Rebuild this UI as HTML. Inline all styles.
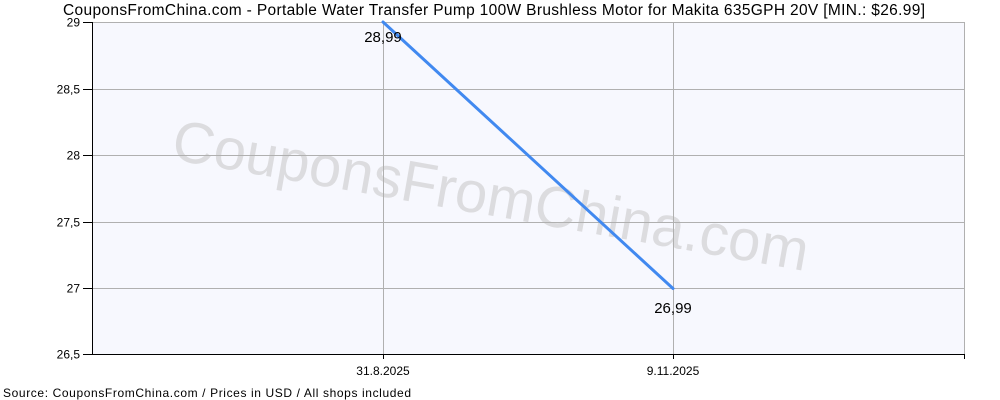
<!DOCTYPE html>
<html><head><meta charset="utf-8"><style>
html,body{margin:0;padding:0;background:#fff;}
svg{display:block;}
text{font-family:"Liberation Sans",Arial,sans-serif;}
</style></head><body>
<svg width="1000" height="400" viewBox="0 0 1000 400" xmlns="http://www.w3.org/2000/svg">
<rect x="0" y="0" width="1000" height="400" fill="#ffffff"/>
<rect x="92" y="22" width="872" height="332" fill="#f7f8fe"/>
<!-- watermark -->
<text x="0" y="0" font-size="58" fill="#dcdcdf" transform="translate(170,159) rotate(10)">CouponsFromChina.com</text>
<!-- grid -->
<g stroke="#b0b0b0" stroke-width="1">
<line x1="92" y1="22.5" x2="964" y2="22.5"/>
<line x1="92" y1="89.5" x2="964" y2="89.5"/>
<line x1="92" y1="155.5" x2="964" y2="155.5"/>
<line x1="92" y1="222.5" x2="964" y2="222.5"/>
<line x1="92" y1="288.5" x2="964" y2="288.5"/>
<line x1="383.5" y1="22" x2="383.5" y2="354"/>
<line x1="673.5" y1="22" x2="673.5" y2="354"/>
<line x1="964.5" y1="22" x2="964.5" y2="354"/>
</g>
<!-- axes -->
<g stroke="#000" stroke-width="1">
<line x1="92.5" y1="22" x2="92.5" y2="355"/>
<line x1="92" y1="354.5" x2="965" y2="354.5"/>
<line x1="83" y1="22.5" x2="92" y2="22.5"/>
<line x1="83" y1="89.5" x2="92" y2="89.5"/>
<line x1="83" y1="155.5" x2="92" y2="155.5"/>
<line x1="83" y1="222.5" x2="92" y2="222.5"/>
<line x1="83" y1="288.5" x2="92" y2="288.5"/>
<line x1="83" y1="354.5" x2="92" y2="354.5"/>
<line x1="383.5" y1="354" x2="383.5" y2="359"/>
<line x1="673.5" y1="354" x2="673.5" y2="359"/>
<line x1="964.5" y1="354" x2="964.5" y2="359"/>
</g>
<!-- y labels -->
<g font-size="12" fill="#000" text-anchor="end">
<text x="80" y="26.5">29</text>
<text x="80" y="93.5">28,5</text>
<text x="80" y="159.5">28</text>
<text x="80" y="226.5">27,5</text>
<text x="80" y="292.5">27</text>
<text x="80" y="358.5">26,5</text>
</g>
<!-- x labels -->
<g font-size="12" fill="#000" text-anchor="middle">
<text x="383" y="375">31.8.2025</text>
<text x="673" y="375">9.11.2025</text>
</g>
<!-- series -->
<line x1="383" y1="22" x2="673" y2="288.5" stroke="#4189f0" stroke-width="3" stroke-linecap="round"/>
<text x="383" y="42" font-size="15" text-anchor="middle" fill="#000">28,99</text>
<text x="673" y="313" font-size="15" text-anchor="middle" fill="#000">26,99</text>
<!-- title -->
<text x="63" y="15" font-size="15.5" fill="#000" textLength="862" lengthAdjust="spacing">CouponsFromChina.com - Portable Water Transfer Pump 100W Brushless Motor for Makita 635GPH 20V [MIN.: $26.99]</text>
<!-- source -->
<text x="3" y="397" font-size="12" fill="#000" textLength="408" lengthAdjust="spacing">Source: CouponsFromChina.com / Prices in USD / All shops included</text>
</svg>
</body></html>
